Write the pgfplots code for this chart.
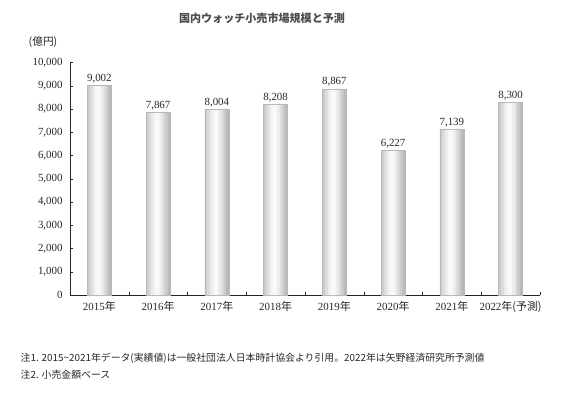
\documentclass[border=0pt]{standalone}
\usepackage{fontspec}
\setmainfont{Liberation Serif}
\newfontfamily\jp{Noto Sans CJK JP}
\usepackage{pgfplots}
\usepackage{pgfplotstable}
\pgfplotsset{compat=1.18}
\pgfplotstableread{
x y
0 9002
1 7867
2 8004
3 8208
4 8867
5 6227
6 7139
7 8300
}\datatable
\begin{document}
\begin{tikzpicture}[x=0.75pt,y=-0.75pt]
\path[use as bounding box] (0,0) rectangle (565,400);
\begin{axis}[
  at={(52.5pt,-221.25pt)}, anchor=south west,
  scale only axis, width=352.5pt, height=174.4pt,
  axis lines*=left,
  axis line style={black!85, line width=0.6pt},
  xmin=-0.5, xmax=7.5, ymin=0, ymax=10000,
  ytick={0,1000,...,10000},
  xtick={0,...,7},
  xticklabels={2015{\jp 年},2016{\jp 年},2017{\jp 年},2018{\jp 年},2019{\jp 年},2020{\jp 年},2021{\jp 年},2022{\jp 年(予測)}},
  minor xtick={-0.5,0.5,...,7.5},
  tick align=inside,
  major tick length=2.5pt,
  minor tick length=2.5pt,
  major x tick style={draw=none},
  tick style={draw=black!85},
  tick label style={font=\fontsize{8.2}{9.8}\selectfont, text=black!85},
  yticklabel style={xshift=-2pt},
  xticklabel style={yshift=-1pt},
  /pgf/number format/.cd, 1000 sep={,}, assume math mode=true,
  /pgfplots/.cd,
  scaled y ticks=false,
  clip=false,
  strip/.style={ybar, draw=none, fill=black!#1, bar width=2.15pt},
]
\addplot[strip=20, bar shift=-8pt] table {\datatable};
\addplot[strip=14, bar shift=-6pt] table {\datatable};
\addplot[strip=8, bar shift=-4pt] table {\datatable};
\addplot[strip=3, bar shift=-2pt] table {\datatable};
\addplot[strip=2, bar shift=0pt] table {\datatable};
\addplot[strip=7, bar shift=2pt] table {\datatable};
\addplot[strip=13, bar shift=4pt] table {\datatable};
\addplot[strip=20, bar shift=6pt] table {\datatable};
\addplot[strip=27, bar shift=8pt] table {\datatable};
\addplot[ybar, bar width=18pt, bar shift=0pt, draw=black!28, line width=0.3pt, fill=none,
  nodes near coords,
  every node near coord/.append style={font=\fontsize{8.2}{9.8}\selectfont, text=black!85, inner sep=1.5pt}]
  table {\datatable};
\end{axis}
\node[font=\jp\bfseries\fontsize{8.3}{10}\selectfont, text=black!70] at (262,18) {国内ウォッチ小売市場規模と予測};
\node[font=\jp\fontsize{8}{10}\selectfont, text=black!85] at (43,42) {(億円)};
\node[font=\jp\fontsize{7.4}{9}\selectfont, text=black!85, anchor=west] at (16,358) {注1. 2015\textasciitilde 2021年データ(実績値)は一般社団法人日本時計協会より引用。2022年は矢野経済研究所予測値};
\node[font=\jp\fontsize{7.4}{9}\selectfont, text=black!85, anchor=west] at (16,375) {注2. 小売金額ベース};
\end{tikzpicture}
\end{document}
